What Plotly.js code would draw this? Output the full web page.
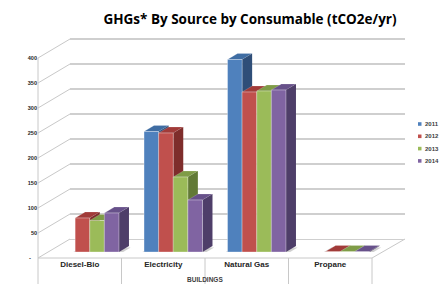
<!DOCTYPE html>
<html>
<head>
<meta charset="utf-8">
<script src="https://cdn.plot.ly/plotly-3.0.1.min.js"></script>
<style>html,body{margin:0;padding:0;background:#fff;}#chart{width:443px;height:284px;}</style>
</head>
<body>
<div id="chart"></div>
<script>
// ---- data ----
const categories = ["Diesel-Bio", "Electricity", "Natural Gas", "Propane"];
const seriesNames = ["2011", "2012", "2013", "2014"];
const v2011 = [null, 241, 385, null];
const v2012 = [68, 238, 320, 1];
const v2013 = [63, 150, 322, 1];
const v2014 = [78, 104, 324, 1];
const yTicks = [0, 50, 100, 150, 200, 250, 300, 350, 400];
const yTickText = ["-", "50", "100", "150", "200", "250", "300", "350", "400"];
const title = "GHGs* By Source by Consumable (tCO2e/yr)";
const xTitle = "BUILDINGS";

// ---- styling / geometry ----
const series = [v2011, v2012, v2013, v2014];
const frontCol = ["#4f81bd", "#c0504d", "#9bbb59", "#8064a2"];
const topCol   = ["#3f6da3", "#a13b39", "#7f9c47", "#67518a"];
const sideCol  = ["#2f4e78", "#7e2d2b", "#627a36", "#4e3e69"];

const W = 443, H = 284;
const L = 38, R = 405, T = 36, B = 258;          // plot area in pixels
const PW = R - L, PH = B - T;
const frontRight = 372;                          // right end of front floor edge
const backDX = 32, backDY = 19;                  // depth of the whole box
const barDX = 10, barDY = 6;                     // depth of bar front plane / bar thickness
const pxPerUnit = 0.5;
const px = x => (x - L) / PW;                    // pixel -> paper
const py = y => (B - y) / PH;

const nCat = categories.length;
const catPx = (frontRight - L) / nCat;
const w = 0.175;                                 // bar width (category units)
const dxU = barDX / catPx, dyU = barDY / pxPerUnit;

const traces = [];
const shapes = [];
const lineCol = "#c8c8c8";

// back-wall / left-wall perspective lines
yTicks.forEach(v => {
  shapes.push({type: "line", xref: "paper", yref: "paper", layer: "below",
    x0: px(L), y0: py(B - v * pxPerUnit), x1: px(L + backDX), y1: py(B - backDY - v * pxPerUnit),
    line: {color: lineCol, width: 1}});
});
// front floor edge, right floor edge, front vertical edge
shapes.push({type: "line", xref: "paper", yref: "paper", layer: "below",
  x0: px(L), y0: py(B), x1: px(frontRight), y1: py(B), line: {color: lineCol, width: 1}});
shapes.push({type: "line", xref: "paper", yref: "paper", layer: "below",
  x0: px(frontRight), y0: py(B), x1: px(frontRight + backDX + 1), y1: py(B - backDY), line: {color: lineCol, width: 1}});
shapes.push({type: "line", xref: "paper", yref: "paper", layer: "below",
  x0: px(L), y0: py(B - 400 * pxPerUnit), x1: px(L), y1: py(284), line: {color: lineCol, width: 1}});
// category separators below the floor
for (let k = 1; k <= nCat; k++) {
  shapes.push({type: "line", xref: "paper", yref: "paper", layer: "below",
    x0: px(L + k * catPx), y0: py(B), x1: px(L + k * catPx), y1: py(284), line: {color: lineCol, width: 1}});
}

// floor shadows under each group
categories.forEach((c, j) => {
  const present = series.map((s, i) => s[j] != null ? i : -1).filter(i => i >= 0);
  if (!present.length) return;
  const xl = j - 2 * w + present[0] * w - 0.05;
  const xr = j - 2 * w + (present[present.length - 1] + 1) * w + 0.02;
  shapes.push({type: "path", xref: "x3", yref: "y3", layer: "below",
    path: `M ${xl},${-3} L ${xr},${-3} L ${xr + dxU},${dyU - 3} L ${xl + dxU},${dyU - 3} Z`,
    fillcolor: "rgba(150,150,150,0.45)", line: {width: 0}});
});

// bars: front faces via traces, top/side faces via shapes in the same axes
series.forEach((s, i) => {
  const off = -2 * w + i * w;
  traces.push({type: "bar", x: categories.map((c, j) => j), y: s, name: seriesNames[i],
    xaxis: "x3", yaxis: "y3", width: w, offset: off, showlegend: false,
    marker: {color: frontCol[i], line: {color: "rgba(255,255,255,0.55)", width: 0.6}},
    hoverinfo: "skip"});
  s.forEach((v, j) => {
    if (v == null) return;
    const x0 = j + off, x1 = x0 + w;
    shapes.push({type: "path", xref: "x3", yref: "y3", layer: "below",
      path: `M ${x0},${v} L ${x1},${v} L ${x1 + dxU},${v + dyU} L ${x0 + dxU},${v + dyU} Z`,
      fillcolor: topCol[i], line: {color: "rgba(255,255,255,0.35)", width: 0.5}});
    shapes.push({type: "path", xref: "x3", yref: "y3", layer: "below",
      path: `M ${x1},0 L ${x1 + dxU},${dyU} L ${x1 + dxU},${v + dyU} L ${x1},${v} Z`,
      fillcolor: sideCol[i], line: {width: 0}});
  });
});

// custom legend
const annotations = [];
seriesNames.forEach((n, i) => {
  const yc = 124 + i * 12.3;
  shapes.push({type: "rect", xref: "paper", yref: "paper",
    x0: px(418), x1: px(421.5), y0: py(yc + 1.8), y1: py(yc - 1.8),
    fillcolor: frontCol[i], line: {width: 0}});
  annotations.push({text: n, xref: "paper", yref: "paper", x: px(423.5), y: py(yc),
    xanchor: "left", yanchor: "middle", showarrow: false,
    font: {family: "Liberation Sans", size: 6, color: "#404040", weight: "bold"}});
});
annotations.push({text: xTitle, xref: "paper", yref: "paper", x: px((L + frontRight) / 2), y: py(284),
  xanchor: "center", yanchor: "bottom", showarrow: false, borderpad: 0,
  font: {family: "Liberation Sans", size: 6.5, color: "#404040", weight: "bold"}});
// zero tick label ("-")
annotations.push({text: yTickText[0], xref: "paper", yref: "paper", x: px(33), y: py(B),
  xanchor: "right", yanchor: "middle", showarrow: false,
  font: {family: "Liberation Sans", size: 6, color: "#262626", weight: "bold"}});

const layout = {
  width: W, height: H,
  margin: {l: L, r: W - R, t: T, b: H - B, pad: 0},
  paper_bgcolor: "#ffffff", plot_bgcolor: "rgba(0,0,0,0)",
  showlegend: false,
  title: {text: title, x: 250 / W, xanchor: "center", y: 1 - 19 / H, yanchor: "middle",
    font: {family: "Open Sans", size: 13.5, color: "#000000", weight: "bold"}},
  xaxis: {domain: [0, (frontRight - L) / PW], type: "category", range: [-0.5, nCat - 0.5],
    showline: false, showgrid: false, zeroline: false, ticks: "",
    tickfont: {family: "Liberation Sans", size: 8, color: "#262626", weight: "bold"},
    anchor: "y", fixedrange: true},
  yaxis: {domain: [0, 1], range: [0, PH / pxPerUnit], tickvals: yTicks.slice(1), ticktext: yTickText.slice(1),
    showline: false, showgrid: false, zeroline: false, ticks: "",
    tickfont: {family: "Liberation Sans", size: 5.5, color: "#262626", weight: "bold"},
    anchor: "x", fixedrange: true},
  xaxis2: {domain: [backDX / PW, 1], range: [0, 1], visible: false, anchor: "y2", fixedrange: true},
  yaxis2: {domain: [backDY / PH, 1], range: [0, (PH - backDY) / pxPerUnit], dtick: 50, tick0: 0,
    showgrid: true, gridcolor: "#cfcfcf", gridwidth: 1.2, zeroline: true, zerolinecolor: "#cfcfcf",
    showticklabels: false, ticks: "", showline: false, anchor: "x2", fixedrange: true},
  xaxis3: {domain: [barDX / PW, (frontRight - L + barDX) / PW], range: [-0.5, nCat - 0.5],
    visible: false, anchor: "y3", fixedrange: true},
  yaxis3: {domain: [barDY / PH, 1], range: [0, (PH - barDY) / pxPerUnit], visible: false,
    anchor: "x3", fixedrange: true},
  barmode: "overlay",
  shapes: shapes,
  annotations: annotations
};

// dummy traces so the front-axis and back-wall subplots exist
traces.unshift({type: "scatter", x: [], y: [], xaxis: "x2", yaxis: "y2", showlegend: false});
traces.unshift({type: "bar", x: categories, y: categories.map(() => null), xaxis: "x", yaxis: "y", showlegend: false});

Plotly.newPlot("chart", traces, layout, {displayModeBar: false, staticPlot: true});
</script>
</body>
</html>
